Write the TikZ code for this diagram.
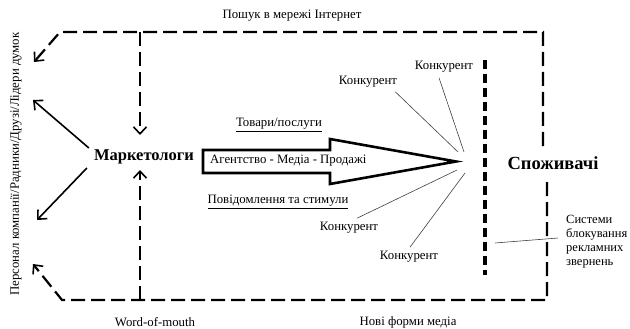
\documentclass[tikz,border=0pt]{standalone}
\usepackage{fontspec}
\setmainfont{Liberation Serif}
\usetikzlibrary{arrows.meta}
\begin{document}
\begin{tikzpicture}[x=1pt,y=-1pt,
  lbl/.style={font=\fontsize{12.8}{14}\selectfont, inner sep=0pt},
  big/.style={font=\bfseries\fontsize{16.5}{18}\selectfont, inner sep=0pt},
  boxline/.style={line width=2.2pt, dash pattern=on 14pt off 6pt},
  barb/.style={-{Straight Barb[length=7pt,width=13pt,line width=1.6pt]}},
  solidarrow/.style={line width=1.6pt, barb},
  thinline/.style={line width=0.6pt, draw=black!75},
  bigarrow/.style={line width=2.6pt, line join=miter},
  wall/.style={line width=4pt, dash pattern=on 9pt off 5pt}
]
\useasboundingbox (0,0) rectangle (630,329);

% texts
\node[lbl] (search) at (292,16) {Пошук в мережі Інтернет};
\node[lbl] (wom) at (155,322) {Word-of-mouth};
\node[lbl] (nfm) at (408,322) {Нові форми медіа};
\node[lbl, rotate=90] (side) at (16,164) {Персонал компанії/Радники/Друзі/Лідери думок};
\node[big] (mk) at (144,157) {Маркетологи};
\node[big, font=\bfseries\fontsize{18.5}{20}\selectfont] (cons) at (553,163) {Споживачі};
\node[lbl] (goods) at (279,125) {\underline{Товари/послуги}};
\node[lbl] (msg) at (278,202) {\underline{Повідомлення та стимули}};
\node[lbl] (k1) at (368,82) {Конкурент};
\node[lbl] (k2) at (444,67) {Конкурент};
\node[lbl] (k3) at (349,228) {Конкурент};
\node[lbl] (k4) at (409,257) {Конкурент};
\node[lbl, align=left, anchor=west, font=\fontsize{12.5}{14}\selectfont] (sys) at (566,242) {Системи\\блокування\\рекламних\\звернень};

% coordinates
\coordinate (tl) at (60,32);
\coordinate (tr) at (543,32);
\coordinate (tre) at (543,146);
\coordinate (brs) at (547,182);
\coordinate (br) at (547,300);
\coordinate (bl) at (62,300);
\coordinate (ltop) at (34,62);
\coordinate (lbot) at (33,264);
\coordinate (vt) at (140,32);
\coordinate (vtend) at (140,135);
\coordinate (vb) at (140,300);
\coordinate (vbend) at (140,170);
\coordinate (pa) at (33,100);
\coordinate (pb) at (37,220);
\coordinate (c1) at (458,152);
\coordinate (c2) at (464,152);
\coordinate (c3) at (457,170);
\coordinate (c4) at (465,173);
\coordinate (wt) at (485,60);
\coordinate (wb) at (485,275);
\coordinate (sb) at (495,243);

% dashed frame
\draw[boxline, barb] (tre) -- (tr) -- (tl) -- (ltop);
\draw[boxline, barb] (brs) -- (br) -- (bl) -- (lbot);
\draw[boxline, barb] (vt) -- (vtend);
\draw[boxline, barb] (vb) -- (vbend);

% solid arrows from marketers
\draw[solidarrow] ([xshift=-5pt,yshift=9pt]mk.west) -- (pa);
\draw[solidarrow] ([xshift=-7pt,yshift=-11pt]mk.west) -- (pb);

% big arrow
\draw[bigarrow] (203,150) -- (330,150) -- (330,139) -- (456,161.5) -- (330,184) -- (330,173) -- (203,173) -- cycle;
\node[lbl, anchor=west] (ag) at (210,161) {Агентство - Медіа - Продажі};

% competitor lines
\draw[thinline] ([xshift=-2pt,yshift=-4pt]k1.south east) -- (c1);
\draw[thinline] ([xshift=-5pt,yshift=-5pt]k2.south) -- (c2);
\draw[thinline] ([xshift=8pt,yshift=4pt]k3.north) -- (c3);
\draw[thinline] ([xshift=1pt,yshift=4pt]k4.north) -- (c4);

% wall
\draw[wall] (wt) -- (wb);
\draw[thinline] (sb) -- ([xshift=-8pt,yshift=4pt]sys.west);
\end{tikzpicture}
\end{document}
